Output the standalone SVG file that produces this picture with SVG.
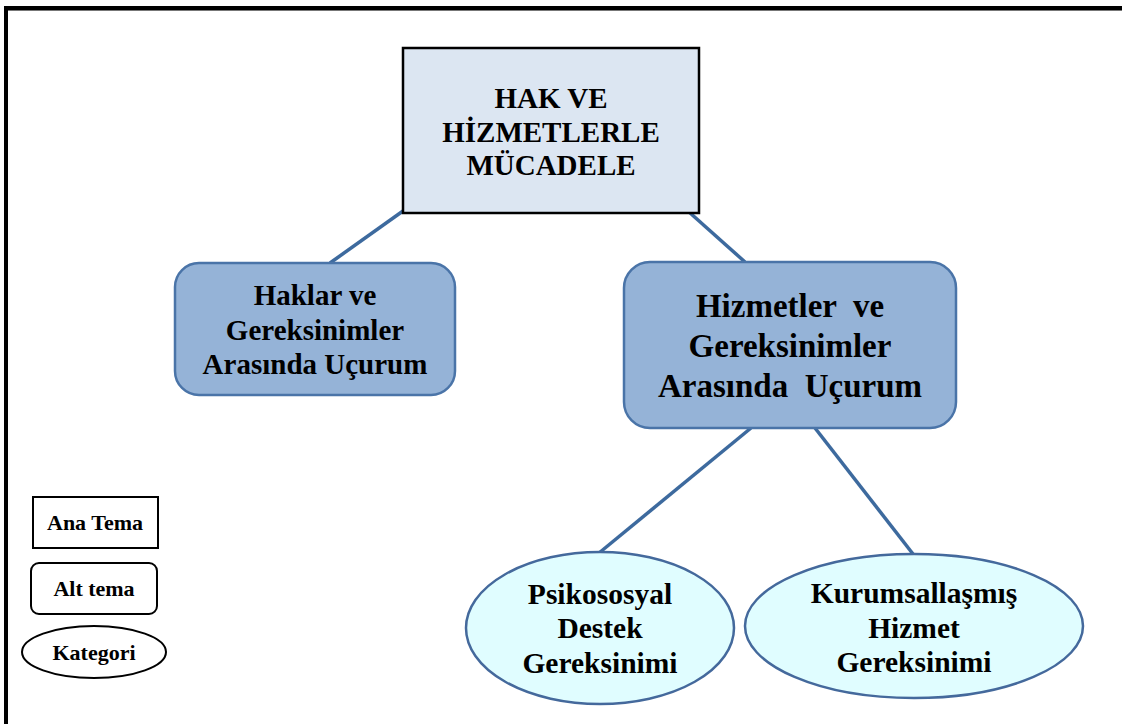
<svg xmlns="http://www.w3.org/2000/svg" width="1122" height="724" viewBox="0 0 1122 724">
  <style>
    text { font-family: "Liberation Serif", "Times New Roman", serif; font-weight: bold; fill: #000; text-anchor: middle; }
    .theme { fill: #dce6f2; stroke: #000; stroke-width: 2.5; }
    .sub { fill: #95b3d7; stroke: #4a74a8; stroke-width: 2.5; }
    .cat { fill: #e0fdff; stroke: #44699c; stroke-width: 2.5; }
    .legend { fill: #fff; stroke: #000; stroke-width: 2; }
    .link { stroke: #3d6a9e; stroke-width: 3.5; fill: none; }
  </style>
  <rect width="1122" height="724" fill="#fff"/>

  <!-- outer frame -->
  <g id="frame">
    <line x1="4" y1="8" x2="1122" y2="8" stroke="#000" stroke-width="4"/>
    <line x1="1122" y1="10.5" x2="8" y2="10.5" stroke="#777" stroke-width="1"/>
    <line x1="6" y1="6" x2="6" y2="724" stroke="#000" stroke-width="4"/>
  </g>

  <!-- connectors -->
  <g id="connectors">
    <line class="link" x1="403" y1="211" x2="330" y2="263"/>
    <line class="link" x1="689" y1="212" x2="745" y2="262"/>
    <line class="link" x1="751" y1="428" x2="599" y2="553"/>
    <line class="link" x1="815" y1="428" x2="913" y2="554"/>
  </g>

  <g id="main-theme">
    <rect class="theme" x="403" y="48" width="296" height="165"/>
    <text x="551" y="108" font-size="29">HAK VE</text>
    <text x="551" y="142" font-size="29">HİZMETLERLE</text>
    <text x="551" y="175" font-size="29">MÜCADELE</text>
  </g>

  <g id="sub-rights">
    <rect class="sub" x="175" y="263" width="280" height="132" rx="24"/>
    <text x="315" y="305" font-size="29">Haklar ve</text>
    <text x="315" y="340" font-size="29">Gereksinimler</text>
    <text x="315" y="374" font-size="29">Arasında Uçurum</text>
  </g>

  <g id="sub-services">
    <rect class="sub" x="624" y="262" width="332" height="166" rx="26"/>
    <text x="790" y="317" font-size="33" xml:space="preserve">Hizmetler  ve</text>
    <text x="790" y="357" font-size="33">Gereksinimler</text>
    <text x="790" y="397" font-size="33" xml:space="preserve">Arasında  Uçurum</text>
  </g>

  <g id="cat-psychosocial">
    <ellipse class="cat" cx="600" cy="628" rx="134" ry="76"/>
    <text x="600" y="604" font-size="29.5">Psikososyal</text>
    <text x="600" y="638" font-size="29.5">Destek</text>
    <text x="600" y="673" font-size="29.5">Gereksinimi</text>
  </g>

  <g id="cat-institutional">
    <ellipse class="cat" cx="914" cy="626" rx="169" ry="72"/>
    <text x="914" y="603" font-size="29.5">Kurumsallaşmış</text>
    <text x="914" y="638" font-size="29.5">Hizmet</text>
    <text x="914" y="672" font-size="29.5">Gereksinimi</text>
  </g>

  <!-- legend -->
  <g id="legend-main">
    <rect class="legend" x="33" y="497" width="125" height="51"/>
    <text x="95" y="530" font-size="22">Ana Tema</text>
  </g>
  <g id="legend-sub">
    <rect class="legend" x="31" y="563" width="126" height="51" rx="8"/>
    <text x="94" y="596" font-size="22">Alt tema</text>
  </g>
  <g id="legend-cat">
    <ellipse class="legend" cx="94" cy="652" rx="72" ry="26"/>
    <text x="94" y="660" font-size="22">Kategori</text>
  </g>
</svg>
